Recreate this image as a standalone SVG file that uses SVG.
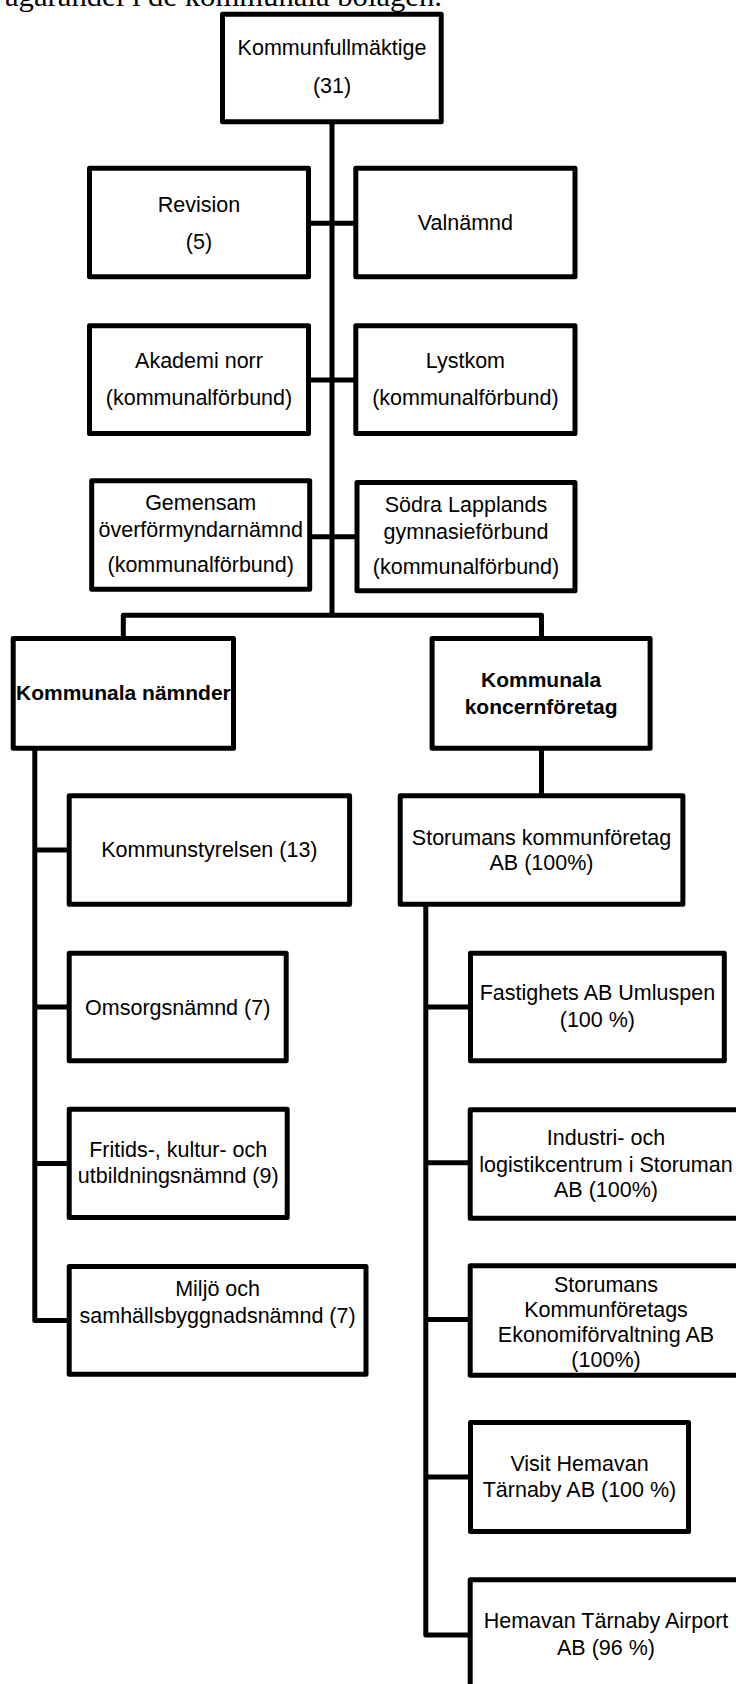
<svg xmlns="http://www.w3.org/2000/svg" width="736" height="1684" viewBox="0 0 736 1684">
<style>
.box{fill:#fff;stroke:#000;stroke-width:5;stroke-linejoin:round}
.conn{fill:none;stroke:#000;stroke-width:5;stroke-linejoin:round}
text{font-family:"Liberation Sans",Arial,sans-serif;font-size:21.5px;text-anchor:middle;fill:#000}
.b{font-weight:bold;font-size:21px}
.top{font-family:"Liberation Serif","Times New Roman",serif;font-size:30px;text-anchor:start}
</style>
<rect width="736" height="1684" fill="#fff"/>
<text class="top" x="5" y="5.5" textLength="437" lengthAdjust="spacingAndGlyphs">ägarandel i de kommunala bolagen.</text>
<g id="connectors">
<path class="conn" d="M332,121.7V615.2"/>
<path class="conn" d="M308.5,223.3H355.8"/>
<path class="conn" d="M308.5,380H355.8"/>
<path class="conn" d="M309.7,536.7H357"/>
<path class="conn" d="M123.3,638.5V615.2H541.5V638.5"/>
<path class="conn" d="M34.8,748.2V1320.4H69.2"/>
<path class="conn" d="M34.8,850H69.2"/>
<path class="conn" d="M34.8,1007H69.2"/>
<path class="conn" d="M34.8,1163.4H69.2"/>
<path class="conn" d="M541.5,748.2V795.8"/>
<path class="conn" d="M425.8,904.2V1635H470.5"/>
<path class="conn" d="M425.8,1007H470.5"/>
<path class="conn" d="M425.8,1162.8H470.5"/>
<path class="conn" d="M425.8,1319.5H470.5"/>
<path class="conn" d="M425.8,1477H470.5"/>
</g>
<g id="kommunfullmaktige"><rect class="box" x="222.5" y="14.2" width="218.7" height="107.5"/><text x="332" y="55">Kommunfullmäktige</text><text x="332" y="93">(31)</text></g>
<g id="revision"><rect class="box" x="89.5" y="168.2" width="219" height="108.6"/><text x="199" y="212">Revision</text><text x="199" y="249">(5)</text></g>
<g id="valnamnd"><rect class="box" x="355.8" y="168.2" width="219.2" height="108.6"/><text x="465.4" y="230">Valnämnd</text></g>
<g id="akademi-norr"><rect class="box" x="89.5" y="325.8" width="219" height="107.7"/><text x="199" y="368">Akademi norr</text><text x="199" y="405">(kommunalförbund)</text></g>
<g id="lystkom"><rect class="box" x="355.8" y="325.8" width="219.2" height="107.7"/><text x="465.4" y="368">Lystkom</text><text x="465.4" y="405">(kommunalförbund)</text></g>
<g id="gemensam"><rect class="box" x="91.7" y="480.8" width="218" height="108.4"/><text x="200.7" y="509.5">Gemensam</text><text x="200.7" y="536.5">överförmyndarnämnd</text><text x="200.7" y="572">(kommunalförbund)</text></g>
<g id="sodra-lapplands"><rect class="box" x="357" y="482.5" width="218" height="108.3"/><text x="466" y="512">Södra Lapplands</text><text x="466" y="538.5">gymnasieförbund</text><text x="466" y="573.5">(kommunalförbund)</text></g>
<g id="kommunala-namnder"><rect class="box" x="13.2" y="638.5" width="220.3" height="109.7"/><text class="b" x="123.4" y="700">Kommunala nämnder</text></g>
<g id="kommunala-koncernforetag"><rect class="box" x="432.1" y="638.5" width="218" height="109.7"/><text class="b" x="541.1" y="687">Kommunala</text><text class="b" x="541.1" y="713.5">koncernföretag</text></g>
<g id="kommunstyrelsen"><rect class="box" x="69.2" y="795.8" width="280.4" height="108.4"/><text x="209.4" y="857">Kommunstyrelsen (13)</text></g>
<g id="storumans-kommunforetag"><rect class="box" x="400.2" y="795.8" width="282.7" height="108.4"/><text x="541.5" y="845">Storumans kommunföretag</text><text x="541.5" y="870">AB (100%)</text></g>
<g id="omsorgsnamnd"><rect class="box" x="69.2" y="953.2" width="217" height="107.6"/><text x="177.7" y="1014.5">Omsorgsnämnd (7)</text></g>
<g id="fastighets"><rect class="box" x="470.5" y="953.2" width="253.8" height="107.6"/><text x="597.4" y="1000">Fastighets AB Umluspen</text><text x="597.4" y="1026.7">(100 %)</text></g>
<g id="fritids"><rect class="box" x="69.2" y="1109.2" width="218" height="108.3"/><text x="178.2" y="1157.3">Fritids-, kultur- och</text><text x="178.2" y="1183.3">utbildningsnämnd (9)</text></g>
<g id="industri"><rect class="box" x="470.2" y="1109.8" width="272" height="108.4"/><text x="606" y="1145">Industri- och</text><text x="606" y="1172">logistikcentrum i Storuman</text><text x="606" y="1197">AB (100%)</text></g>
<g id="miljo"><rect class="box" x="69.2" y="1266.5" width="296.8" height="107.7"/><text x="217.6" y="1296">Miljö och</text><text x="217.6" y="1322.7">samhällsbyggnadsnämnd (7)</text></g>
<g id="ekonomiforvaltning"><rect class="box" x="470.2" y="1265.8" width="272" height="109.4"/><text x="606" y="1292">Storumans</text><text x="606" y="1317">Kommunföretags</text><text x="606" y="1342">Ekonomiförvaltning AB</text><text x="606" y="1367">(100%)</text></g>
<g id="visit-hemavan"><rect class="box" x="470.5" y="1422.5" width="218" height="109"/><text x="579.5" y="1470.7">Visit Hemavan</text><text x="579.5" y="1497.3">Tärnaby AB (100 %)</text></g>
<g id="airport"><rect class="box" x="470.2" y="1579.8" width="272" height="110"/><text x="606" y="1628.3">Hemavan Tärnaby Airport</text><text x="606" y="1655">AB (96 %)</text></g>
</svg>
